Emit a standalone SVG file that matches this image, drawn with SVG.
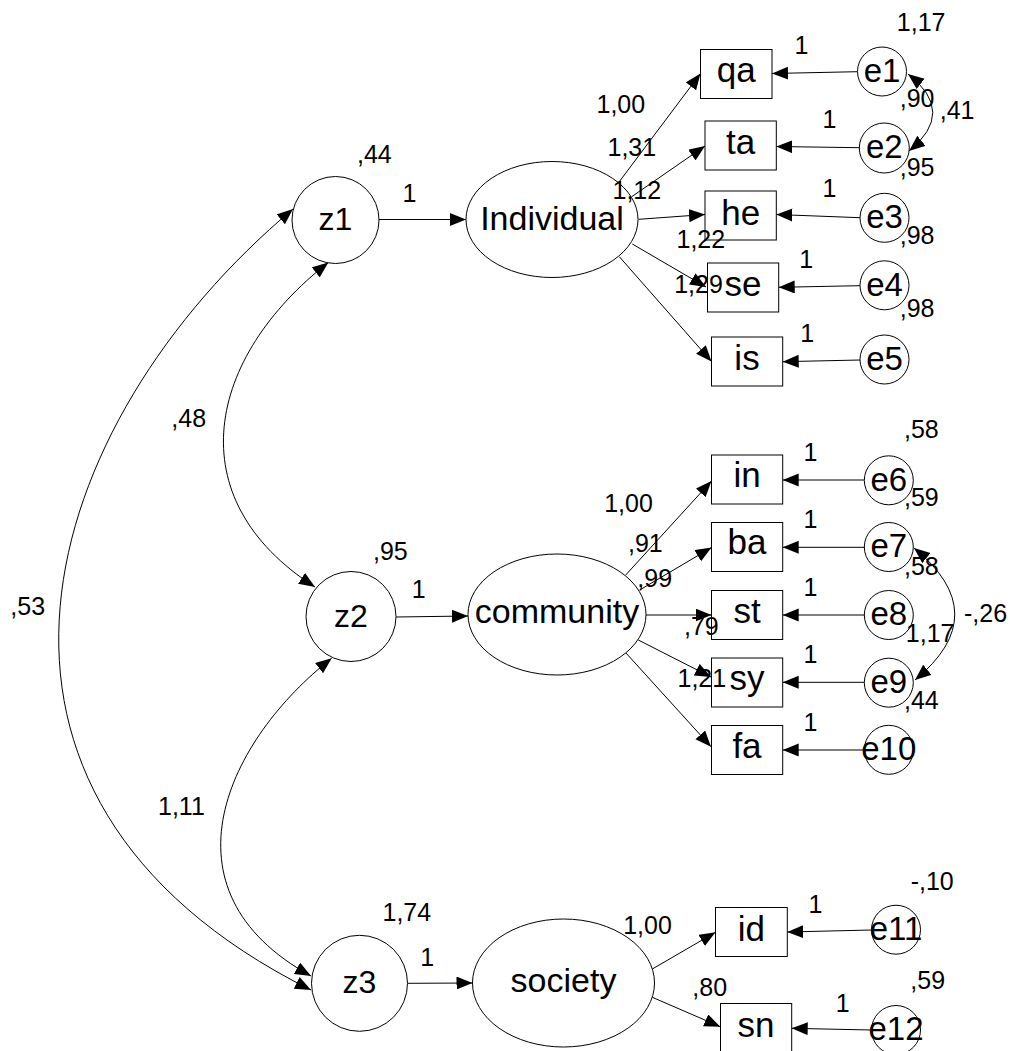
<svg xmlns="http://www.w3.org/2000/svg" width="1010" height="1051" viewBox="0 0 1010 1051">
<style>
.n{fill:#fff;stroke:#000;stroke-width:1}
.c{fill:none;stroke:#000;stroke-width:1}
.a{marker-end:url(#ah)}
.b{marker-start:url(#ah);marker-end:url(#ah)}
text{font-family:"Liberation Sans",Arial,sans-serif;fill:#000}
.lz{font-size:32px;text-anchor:middle}
.lc{font-size:33px;text-anchor:middle}
.lb{font-size:35px;text-anchor:middle}
.le{font-size:34px;text-anchor:middle}
.v{font-size:25px}
</style>
<defs>
<marker id="ah" markerUnits="userSpaceOnUse" markerWidth="17" markerHeight="14" refX="16" refY="6.5" orient="auto-start-reverse">
<path d="M0,0 L16,6.5 L0,13 z" fill="#000"/>
</marker>
</defs>
<rect width="1010" height="1051" fill="#fff"/>
<g id="connectors">
<line class="c a" x1="379" y1="219.5" x2="466" y2="219.5"/>
<line class="c a" x1="396" y1="617" x2="468" y2="616"/>
<line class="c a" x1="407.7" y1="983.3" x2="472.5" y2="983"/>
<line class="c a" x1="618.5" y1="182.7" x2="700.5" y2="73.5"/>
<line class="c a" x1="632" y1="196.5" x2="705" y2="146"/>
<line class="c a" x1="638.7" y1="219.3" x2="705" y2="214.5"/>
<line class="c a" x1="632.3" y1="244" x2="706" y2="287"/>
<line class="c a" x1="619.3" y1="256.7" x2="711.5" y2="361.5"/>
<line class="c a" x1="857.5" y1="71.7" x2="772" y2="73.5"/>
<line class="c a" x1="859.3" y1="147.7" x2="776.3" y2="146.5"/>
<line class="c a" x1="860" y1="217.7" x2="776.3" y2="214.5"/>
<line class="c a" x1="860" y1="285.7" x2="778.7" y2="287.3"/>
<line class="c a" x1="860" y1="360" x2="782.7" y2="361.7"/>
<line class="c a" x1="864.3" y1="480" x2="782.7" y2="480"/>
<line class="c a" x1="864.3" y1="547.3" x2="782.7" y2="547.3"/>
<line class="c a" x1="864.3" y1="615" x2="782.7" y2="615"/>
<line class="c a" x1="864.3" y1="682.3" x2="782.7" y2="682.3"/>
<line class="c a" x1="864.3" y1="750" x2="782.7" y2="750"/>
<line class="c a" x1="871.5" y1="930" x2="787.3" y2="932"/>
<line class="c a" x1="871.5" y1="1030" x2="791.7" y2="1028.3"/>
<line class="c a" x1="625.7" y1="575" x2="711.5" y2="481"/>
<line class="c a" x1="639.7" y1="590" x2="711.5" y2="547.5"/>
<line class="c a" x1="645.7" y1="615" x2="711.5" y2="615"/>
<line class="c a" x1="638.3" y1="640" x2="711" y2="677"/>
<line class="c a" x1="625.7" y1="652.7" x2="711" y2="746.7"/>
<line class="c a" x1="652.3" y1="969" x2="715.5" y2="932.3"/>
<line class="c a" x1="652.3" y1="997.3" x2="720.3" y2="1026.7"/>
<path class="c b" d="M908,74 Q957,112 909,151"/>
<path class="c b" d="M914,548 Q995,614 915,680"/>
<path class="c b" d="M328.3,262.5 C207.3,356.9 176,498 315,587"/>
<path class="c b" d="M331.7,658.3 C228.7,738.6 154,889.6 311,976"/>
<path class="c b" d="M293,209 C38,423 -79,795 311,990"/>
</g>
<g id="z1"><circle class="n" cx="335.5" cy="220" r="43.5"/><text class="lz" x="335.5" y="230">z1</text></g>
<g id="z2"><circle class="n" cx="351" cy="616.5" r="45"/><text class="lz" x="351" y="626.5">z2</text></g>
<g id="z3"><circle class="n" cx="359.5" cy="983.3" r="48"/><text class="lz" x="359.5" y="993.3">z3</text></g>
<g id="Individual"><ellipse class="n" cx="552" cy="219.5" rx="86" ry="58"/><text class="le" x="552" y="229.5">Individual</text></g>
<g id="community"><ellipse class="n" cx="557" cy="614.5" rx="89" ry="60.5"/><text class="le" x="557" y="622.7">community</text></g>
<g id="society"><ellipse class="n" cx="563.5" cy="983" rx="91" ry="64"/><text class="le" x="563.5" y="991.7">society</text></g>
<g id="qa"><rect class="n" x="700.5" y="49.5" width="71.5" height="49"/><text class="lb" x="736.3" y="81.7">qa</text></g>
<g id="ta"><rect class="n" x="705" y="121" width="71.3" height="49"/><text class="lb" x="740.7" y="154">ta</text></g>
<g id="he"><rect class="n" x="705" y="191" width="71.3" height="49"/><text class="lb" x="740.7" y="225">he</text></g>
<g id="se"><rect class="n" x="707.5" y="263" width="71.2" height="49"/><text class="lb" x="743" y="295.7">se</text></g>
<g id="is"><rect class="n" x="711.5" y="337" width="71.2" height="49"/><text class="lb" x="747" y="370">is</text></g>
<g id="in"><rect class="n" x="711.5" y="455" width="71.2" height="49"/><text class="lb" x="747" y="486.7">in</text></g>
<g id="ba"><rect class="n" x="711.5" y="522.5" width="71.2" height="49"/><text class="lb" x="747" y="554.3">ba</text></g>
<g id="st"><rect class="n" x="711.5" y="590.5" width="71.2" height="49"/><text class="lb" x="747" y="623.3">st</text></g>
<g id="sy"><rect class="n" x="711.5" y="658" width="71.2" height="49"/><text class="lb" x="747" y="690">sy</text></g>
<g id="fa"><rect class="n" x="711.5" y="725.5" width="71.2" height="49"/><text class="lb" x="747" y="757.7">fa</text></g>
<g id="id"><rect class="n" x="715.5" y="907.5" width="71.8" height="49"/><text class="lb" x="751.4" y="940.7">id</text></g>
<g id="sn"><rect class="n" x="720.5" y="1003.5" width="71.2" height="49"/><text class="lb" x="756" y="1036.7">sn</text></g>
<g id="e1"><circle class="n" cx="882" cy="71.5" r="24.5"/><text class="lc" x="882" y="82">e1</text></g>
<g id="e2"><circle class="n" cx="884.3" cy="148" r="25"/><text class="lc" x="884.3" y="158.3">e2</text></g>
<g id="e3"><circle class="n" cx="884.5" cy="217.8" r="24.5"/><text class="lc" x="884.5" y="228.2">e3</text></g>
<g id="e4"><circle class="n" cx="884.5" cy="285.3" r="24.5"/><text class="lc" x="884.5" y="295.7">e4</text></g>
<g id="e5"><circle class="n" cx="884.5" cy="359.5" r="24.5"/><text class="lc" x="884.5" y="369.9">e5</text></g>
<g id="e6"><circle class="n" cx="888.8" cy="480.3" r="24.5"/><text class="lc" x="888.8" y="490.7">e6</text></g>
<g id="e7"><circle class="n" cx="888.8" cy="547" r="24.5"/><text class="lc" x="888.8" y="557.4">e7</text></g>
<g id="e8"><circle class="n" cx="888.8" cy="615" r="24.5"/><text class="lc" x="888.8" y="625.4">e8</text></g>
<g id="e9"><circle class="n" cx="888.8" cy="682.7" r="24.5"/><text class="lc" x="888.8" y="693.1">e9</text></g>
<g id="e10"><circle class="n" cx="888.8" cy="749.8" r="24.5"/><text class="lc" x="888.8" y="760.2">e10</text></g>
<g id="e11"><circle class="n" cx="896" cy="929.7" r="24.5"/><text class="lc" x="896" y="940.1">e11</text></g>
<g id="e12"><circle class="n" cx="896" cy="1030" r="24.5"/><text class="lc" x="896" y="1040.4">e12</text></g>
<g id="values">
<text class="v" x="896.8" y="30.7">1,17</text>
<text class="v" x="794.5" y="54.3">1</text>
<text class="v" x="596.5" y="113.3">1,00</text>
<text class="v" x="899.7" y="106.7">,90</text>
<text class="v" x="939.7" y="119">,41</text>
<text class="v" x="822.5" y="128.3">1</text>
<text class="v" x="607.5" y="156">1,31</text>
<text class="v" x="899.7" y="176">,95</text>
<text class="v" x="612.5" y="199">1,12</text>
<text class="v" x="822.5" y="196.7">1</text>
<text class="v" x="899.7" y="244.3">,98</text>
<text class="v" x="676.5" y="248.3">1,22</text>
<text class="v" x="799.2" y="268.3">1</text>
<text class="v" x="674.2" y="293.3">1,29</text>
<text class="v" x="899.7" y="317.3">,98</text>
<text class="v" x="800.2" y="341.7">1</text>
<text class="v" x="904" y="438.3">,58</text>
<text class="v" x="803.5" y="460.7">1</text>
<text class="v" x="604.2" y="512.3">1,00</text>
<text class="v" x="904" y="506">,59</text>
<text class="v" x="803.5" y="528.3">1</text>
<text class="v" x="628" y="551.7">,91</text>
<text class="v" x="904" y="575">,58</text>
<text class="v" x="637.3" y="586.7">,99</text>
<text class="v" x="803.5" y="596">1</text>
<text class="v" x="964" y="621.7">-,26</text>
<text class="v" x="684" y="635">,79</text>
<text class="v" x="905.8" y="641.7">1,17</text>
<text class="v" x="803.5" y="663.3">1</text>
<text class="v" x="677.5" y="686.7">1,21</text>
<text class="v" x="904" y="709">,44</text>
<text class="v" x="803.5" y="731">1</text>
<text class="v" x="910.7" y="890">-,10</text>
<text class="v" x="808.5" y="912.7">1</text>
<text class="v" x="623.2" y="934">1,00</text>
<text class="v" x="910.3" y="989.3">,59</text>
<text class="v" x="692.3" y="996">,80</text>
<text class="v" x="835.8" y="1012.3">1</text>
<text class="v" x="357" y="162.7">,44</text>
<text class="v" x="402.5" y="201.7">1</text>
<text class="v" x="373" y="560">,95</text>
<text class="v" x="411.8" y="598.3">1</text>
<text class="v" x="10.3" y="615">,53</text>
<text class="v" x="382.5" y="920.7">1,74</text>
<text class="v" x="420.2" y="965.7">1</text>
<text class="v" x="171.3" y="426.7">,48</text>
<text class="v" x="158" y="815">1,11</text>
</g>
</svg>
